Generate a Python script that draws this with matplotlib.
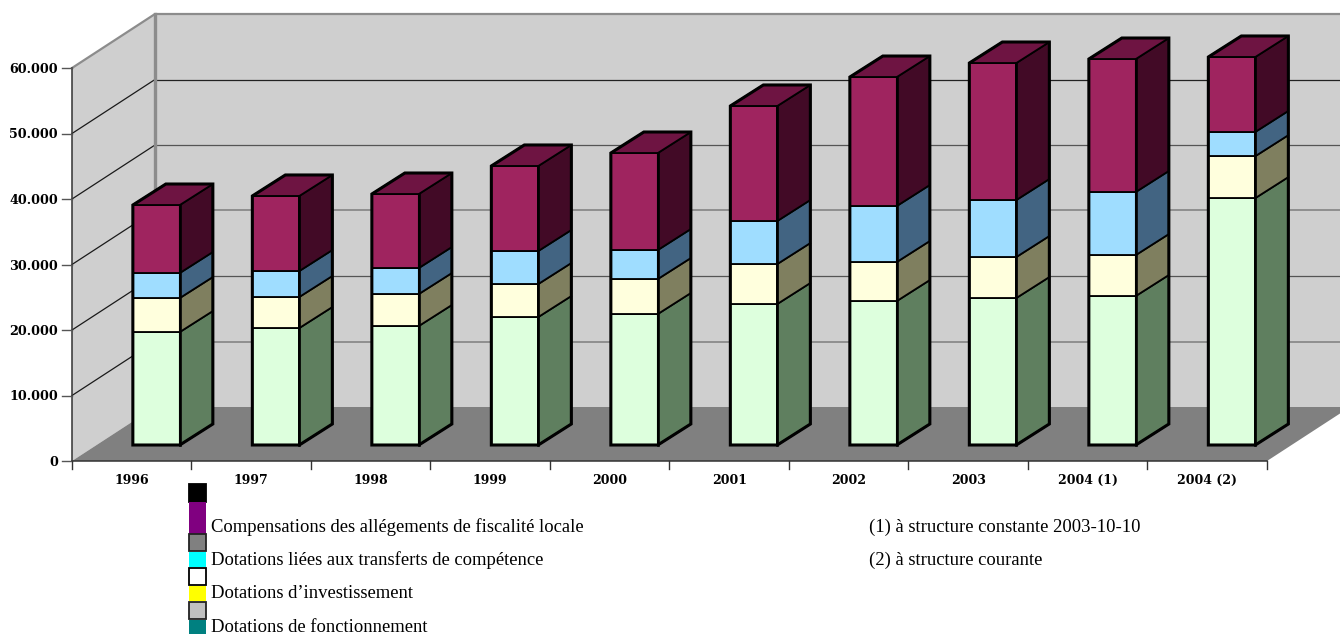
"""Stacked 3D-look column chart of state grants, 1996-2004, drawn with plain polygons."""
import matplotlib
matplotlib.use("Agg")
import matplotlib.pyplot as plt
from matplotlib.patches import Polygon, Rectangle

W, H = 1340, 634

years = ["1996", "1997", "1998", "1999", "2000", "2001", "2002", "2003", "2004 (1)", "2004 (2)"]
fonctionnement = [17250, 17860, 18170, 19540, 20000, 21530, 21980, 22440, 22750, 37700]
investissement = [5190, 4740, 4880, 5040, 5340, 6100, 5960, 6260, 6250, 6400]
transferts = [3820, 3960, 3970, 5040, 4430, 6570, 8550, 8700, 9630, 3700]
compensations = [10380, 11460, 11300, 12980, 14810, 17560, 19690, 20920, 20300, 11440]
y_ticks = [0, 10000, 20000, 30000, 40000, 50000, 60000]
y_tick_labels = ["0", "10.000", "20.000", "30.000", "40.000", "50.000", "60.000"]

# (front colour, side colour), bottom to top
series = [
    (fonctionnement, "#DDFFDD", "#5F7F5F"),
    (investissement, "#FFFFDD", "#7F7F5F"),
    (transferts, "#9FDDFF", "#426482"),
    (compensations, "#9F245F", "#420A26"),
]
TOP_COLOR = "#6E1442"

# pixel scale of the data axes
X0_PX, Y0_PX = 72, 461
PX_PER_CAT = 119.5
PX_PER_VAL = 65.5 / 10000

# oblique projection offsets, in data units
WALL_DX, WALL_DY = 83 / PX_PER_CAT, 54 / PX_PER_VAL
BAR_SHIFT_X, BAR_SHIFT_Y = 24.6 / PX_PER_CAT, 16 / PX_PER_VAL
BAR_DX, BAR_DY = 33 / PX_PER_CAT, 21 / PX_PER_VAL
BAR_WIDTH = 47 / PX_PER_CAT

fig = plt.figure(figsize=(W / 100, H / 100), dpi=100, facecolor="white")
ax = fig.add_axes([0, 0, 1, 1])
ax.set_xlim(-X0_PX / PX_PER_CAT, (W - X0_PX) / PX_PER_CAT)
ax.set_ylim((Y0_PX - H) / PX_PER_VAL, Y0_PX / PX_PER_VAL)
ax.axis("off")

n = len(years)
top = y_ticks[-1]

# walls and floor
ax.add_patch(Polygon([(0, 0), (WALL_DX, WALL_DY), (WALL_DX, top + WALL_DY), (0, top)],
                     fc="#CFCFCF", ec="none", zorder=1))
ax.add_patch(Polygon([(WALL_DX, WALL_DY), (n + WALL_DX, WALL_DY), (n + WALL_DX, top + WALL_DY),
                      (WALL_DX, top + WALL_DY)], fc="#CFCFCF", ec="none", zorder=1))
ax.add_patch(Polygon([(0, 0), (n, 0), (n + WALL_DX, WALL_DY), (WALL_DX, WALL_DY)],
                     fc="#808080", ec="none", zorder=2))

# gridlines: dark across the side wall, varying weight along the back wall
grid_styles = {10000: ("#8A8A8A", 1.3), 20000: ("#555555", 0.9), 30000: ("#8A8A8A", 1.3),
               40000: ("#555555", 0.9), 50000: ("#222222", 0.9)}
for v, (grid_color, grid_lw) in grid_styles.items():
    ax.plot([0, WALL_DX], [v, v + WALL_DY], color="#1A1A1A", lw=0.9, zorder=2)
    ax.plot([WALL_DX, n + WALL_DX], [v + WALL_DY, v + WALL_DY], color=grid_color, lw=grid_lw, zorder=2)

# wall borders
ax.plot([0, WALL_DX, n + WALL_DX], [top, top + WALL_DY, top + WALL_DY],
        color="#8C8C8C", lw=1.6, zorder=2)
ax.plot([WALL_DX, WALL_DX], [WALL_DY, top + WALL_DY], color="#8C8C8C", lw=2.4, zorder=2)

# axis lines and ticks
ax.plot([0, 0], [0, top], color="#333333", lw=1.1, zorder=3)
ax.plot([0, n], [0, 0], color="#333333", lw=1.1, zorder=3)
for v, label in zip(y_ticks, y_tick_labels):
    ax.plot([-10 / PX_PER_CAT, 0], [v, v], color="#555555", lw=1, zorder=3)
    ax.text(-14 / PX_PER_CAT, v - 1.5 / PX_PER_VAL, label, ha="right", va="center", fontsize=9.2,
            family="DejaVu Serif", fontweight="bold", color="black")
for i in range(n + 1):
    ax.plot([i, i], [0, -8 / PX_PER_VAL], color="#333333", lw=1, zorder=3)
for i, label in enumerate(years):
    ax.text(i + 0.5, -19.5 / PX_PER_VAL, label, ha="center", va="center", fontsize=9.0,
            family="DejaVu Serif", fontweight="bold", color="black")

# columns, left to right so each one stays in front of its neighbour's depth
THIN, THICK = 1.3, 2.2
for i in range(n):
    x_left = i + 0.5 + BAR_SHIFT_X - BAR_WIDTH / 2
    x_right = x_left + BAR_WIDTH
    y_base = BAR_SHIFT_Y
    bottom = 0
    z = 10 + i
    for values, front, side in series:
        v = values[i]
        y1 = bottom + BAR_SHIFT_Y
        y2 = y1 + v
        ax.bar(x_left, v, width=BAR_WIDTH, bottom=y1, align="edge",
               fc=front, ec="black", lw=THIN, zorder=z)
        ax.add_patch(Polygon([(x_right, y1), (x_right + BAR_DX, y1 + BAR_DY),
                              (x_right + BAR_DX, y2 + BAR_DY), (x_right, y2)],
                             fc=side, ec="black", lw=THIN, joinstyle="miter", zorder=z))
        bottom += v
    y_top = bottom + BAR_SHIFT_Y
    ax.add_patch(Polygon([(x_left, y_top), (x_right, y_top),
                          (x_right + BAR_DX, y_top + BAR_DY), (x_left + BAR_DX, y_top + BAR_DY)],
                         fc=TOP_COLOR, ec="black", lw=THIN, joinstyle="miter", zorder=z))
    # heavier outline around the whole column, plus the front-right edge
    ax.add_patch(Polygon([(x_left, y_base), (x_right, y_base), (x_right + BAR_DX, y_base + BAR_DY),
                          (x_right + BAR_DX, y_top + BAR_DY), (x_left + BAR_DX, y_top + BAR_DY),
                          (x_left, y_top)],
                         fc="none", ec="black", lw=THICK, joinstyle="miter", zorder=z + 0.5))
    ax.plot([x_right, x_right], [y_base, y_top], color="black", lw=1.9, zorder=z + 0.5)

# legend block, laid out in pixels
leg = fig.add_axes([0, 0, 1, 1])
leg.set_xlim(0, W)
leg.set_ylim(H, 0)
leg.axis("off")
swatches = [
    (484, 18, "#000000", "#000000"),
    (502, 32, "#800080", None),
    (534, 17, "#808080", "#222222"),
    (552, 15, "#00FFFF", None),
    (568, 17, "#FFFFFF", "#000000"),
    (586, 15, "#FFFF00", None),
    (602, 17, "#C0C0C0", "#222222"),
    (620, 14, "#008080", None),
]
for y, h, fc, ec in swatches:
    leg.add_patch(Rectangle((189, y), 17, h, fc=fc, ec=ec or "none", lw=1.3))

serif = "Liberation Serif"
for y, label in [(531.5, "Compensations des allégements de fiscalité locale"),
                 (565, "Dotations liées aux transferts de compétence"),
                 (598, "Dotations d’investissement"),
                 (631.5, "Dotations de fonctionnement")]:
    leg.text(211, y, label, ha="left", va="baseline", fontsize=13.4, family=serif, color="black")
for y, label in [(531.5, "(1) à structure constante 2003-10-10"),
                 (565, "(2) à structure courante")]:
    leg.text(869, y, label, ha="left", va="baseline", fontsize=13.4, family=serif, color="black")

fig.savefig("out.png", dpi=100, facecolor="white")
